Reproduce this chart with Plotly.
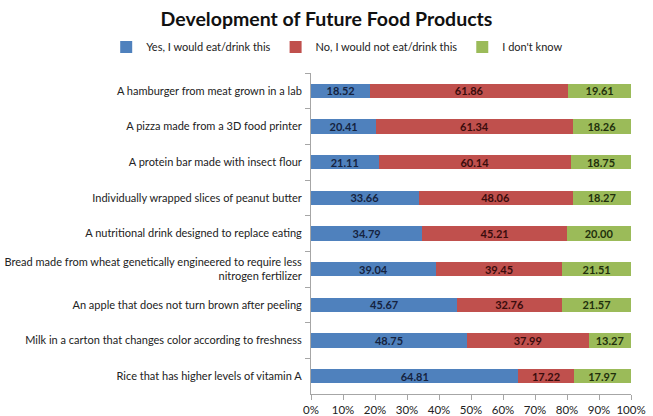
import plotly.graph_objects as go

categories = [
    "A hamburger from meat grown in a lab",
    "A pizza made from a 3D food printer",
    "A protein bar made with insect flour",
    "Individually wrapped slices of peanut butter",
    "A nutritional drink designed to replace eating",
    "Bread made from wheat genetically engineered to require less<br>nitrogen fertilizer",
    "An apple that does not turn brown after peeling",
    "Milk in a carton that changes color according to freshness",
    "Rice that has higher levels of vitamin A",
]
yes_vals = [18.52, 20.41, 21.11, 33.66, 34.79, 39.04, 45.67, 48.75, 64.81]
no_vals = [61.86, 61.34, 60.14, 48.06, 45.21, 39.45, 32.76, 37.99, 17.22]
dk_vals = [19.61, 18.26, 18.75, 18.27, 20.00, 21.51, 21.57, 13.27, 17.97]
series_names = ["Yes, I would eat/drink this", "No, I would not eat/drink this", "I don't know"]
x_ticks = [0, 10, 20, 30, 40, 50, 60, 70, 80, 90, 100]
x_tick_labels = ["0%", "10%", "20%", "30%", "40%", "50%", "60%", "70%", "80%", "90%", "100%"]

FONT = "Lato"
colors = ["#4F81BD", "#C0504D", "#9BBB59"]
text_colors = ["#15233f", "#3a0c0c", "#22300c"]

fig = go.Figure()
for name, vals, c, tc in zip(series_names, [yes_vals, no_vals, dk_vals], colors, text_colors):
    fig.add_trace(go.Bar(
        y=categories, x=vals, name=name, orientation="h",
        marker=dict(color=c, line=dict(width=0)),
        texttemplate="%{x:.2f}", textposition="inside", insidetextanchor="middle",
        textfont=dict(family=FONT, size=11, color=tc, weight="bold"),
        constraintext="none",
    ))

fig.update_layout(
    barmode="stack",
    bargap=0.59,
    width=653, height=416,
    margin=dict(l=311, r=22, t=73, b=22, autoexpand=False),
    paper_bgcolor="white", plot_bgcolor="white",
    font=dict(family=FONT, size=11, color="#222222"),
    title=dict(text="<b>Development of Future Food Products</b>", x=0.5, xanchor="center",
               y=0.955, yanchor="middle", font=dict(family=FONT, size=19.5, color="#111111")),
    legend=dict(orientation="h", x=-0.64, xref="paper", xanchor="left",
                y=1.081, yref="paper", yanchor="middle",
                font=dict(size=11, family=FONT), traceorder="normal",
                itemwidth=30, itemclick=False),
    showlegend=True,
)
fig.update_xaxes(range=[0, 100], tickvals=x_ticks, ticktext=x_tick_labels, showgrid=False,
                 showline=True, linecolor="#A6A6A6", ticks="outside", tickcolor="#A6A6A6",
                 ticklen=5, zeroline=False, tickfont=dict(size=11.5), automargin=False)
fig.update_yaxes(autorange="reversed", showgrid=False, showline=True, linecolor="#A6A6A6",
                 ticks="outside", tickson="boundaries", tickcolor="#A6A6A6", ticklen=5,
                 tickfont=dict(size=11), ticklabelstandoff=6, automargin=False)

fig.write_html("out.html", config={"displayModeBar": False},
               post_script="document.body.style.margin='0';")
